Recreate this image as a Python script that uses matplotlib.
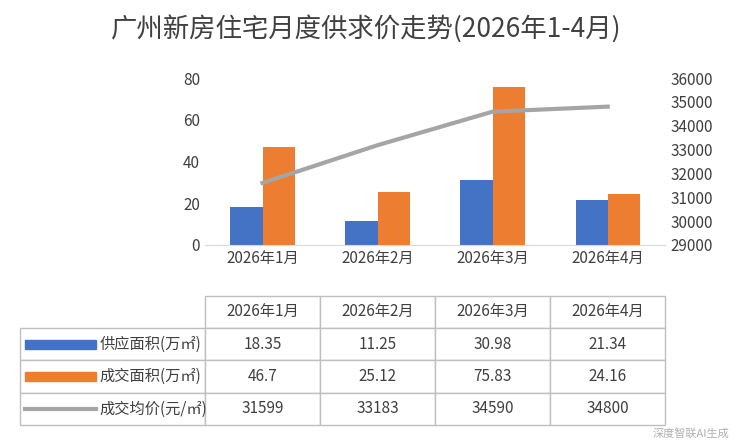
import numpy as np
from matplotlib import pyplot as plt
from matplotlib.patches import Rectangle
from matplotlib.lines import Line2D

plt.rcParams['font.family'] = ['Noto Sans CJK SC', 'DejaVu Sans']

#Données du graphique
months = ['2026年1月', '2026年2月', '2026年3月', '2026年4月']
supply = [18.35, 11.25, 30.98, 21.34]   #供应面积
deal = [46.7, 25.12, 75.83, 24.16]      #成交面积
price = [31599, 33183, 34590, 34800]    #成交均价
row_labels = ['供应面积(万㎡)', '成交面积(万㎡)', '成交均价(元/㎡)']
price_text = ['31599', '33183', '34590', '34800']

blue = '#4472C4'
orange = '#ED7D31'
grey = '#A5A5A5'

fig = plt.figure(figsize=(7.4, 4.46), dpi=100)
fig.text(0.495, 0.915, '广州新房住宅月度供求价走势(2026年1-4月)', ha='center', fontsize=19, color='#404040')

ax = fig.add_axes([0.277, 0.451, 0.622, 0.374])
x = np.arange(len(months))
w = 0.28
ax.bar(x - w/2, supply, w, color=blue)
ax.bar(x + w/2, deal, w, color=orange)
ax.set_ylim(0, 80)
ax.set_yticks(range(0, 81, 20))
ax.set_xlim(-0.5, 3.5)
ax.set_xticks(x)
ax.set_xticklabels(months)
for s in ['top', 'right', 'left']:
  ax.spines[s].set_visible(False)
ax.spines['bottom'].set_color('#D9D9D9')
ax.tick_params(length=0, labelsize=11, colors='#404040')

ax2 = ax.twinx()
ax2.plot(x, price, color=grey, linewidth=3)
ax2.set_ylim(29000, 36000)
ax2.set_yticks(range(29000, 36001, 1000))
for s in ax2.spines.values():
  s.set_visible(False)
ax2.tick_params(length=0, labelsize=11, colors='#404040')

#Tableau des données
tab_ax = fig.add_axes([0.027, 0.047, 0.872, 0.29])
tab_ax.axis('off')
cells = [[''] + months]
cells.append([''] + [str(v) for v in supply])
cells.append([''] + [str(v) for v in deal])
cells.append([''] + price_text)
tab = tab_ax.table(cellText=cells, bbox=[0, 0, 1, 1], cellLoc='center',
                   colWidths=[185, 115, 115, 115, 115])
tab.auto_set_font_size(False)
tab.set_fontsize(11)
for (r, c), cell in tab.get_celld().items():
  cell.set_edgecolor('#BFBFBF')
  cell.get_text().set_color('#404040')
  if r == 0 and c == 0:
    cell.visible_edges = ''

#Légendes dans le tableau
ax_keys = [0.625, 0.375, 0.125]
tab_ax.add_patch(Rectangle((0.008, ax_keys[0] - 0.035), 0.11, 0.07, color=blue, transform=tab_ax.transAxes))
tab_ax.add_patch(Rectangle((0.008, ax_keys[1] - 0.035), 0.11, 0.07, color=orange, transform=tab_ax.transAxes))
tab_ax.add_line(Line2D([0.008, 0.118], [ax_keys[2], ax_keys[2]], color=grey, linewidth=3, transform=tab_ax.transAxes))
for k, lab in zip(ax_keys, row_labels):
  tab_ax.text(0.123, k, lab, va='center', ha='left', fontsize=11, color='#404040')

fig.text(0.985, 0.02, '深度智联AI生成', ha='right', fontsize=8, color='#B0B0B0')

plt.savefig('out.png')
